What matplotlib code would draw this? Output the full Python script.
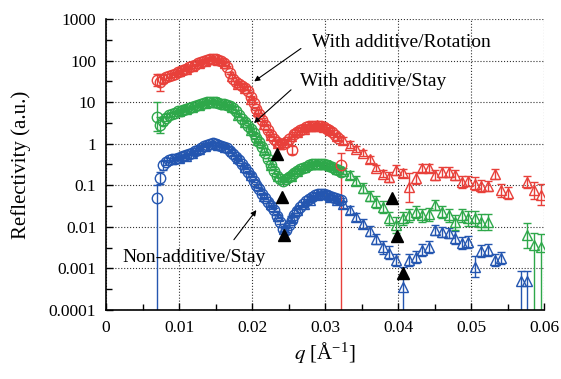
import numpy as np
import matplotlib
matplotlib.use("Agg")
import matplotlib.pyplot as plt
from matplotlib.ticker import FixedLocator, NullFormatter

plt.rcParams["font.family"] = ["Liberation Serif", "DejaVu Serif"]
plt.rcParams["mathtext.fontset"] = "stix"


# q grid of the dense (circle) data set
q_circ = [
    0.0070, 0.0074, 0.0078, 0.0082, 0.0086, 0.0090, 0.0094, 0.0098,
    0.0102, 0.0106, 0.0110, 0.0114, 0.0118, 0.0122, 0.0126, 0.0130,
    0.0134, 0.0138, 0.0142, 0.0146, 0.0150, 0.0154, 0.0158, 0.0162,
    0.0166, 0.0170, 0.0174, 0.0178, 0.0182, 0.0186, 0.0190, 0.0194,
    0.0198, 0.0202, 0.0206, 0.0210, 0.0214, 0.0218, 0.0222, 0.0226,
    0.0230, 0.0234, 0.0238, 0.0242, 0.0246, 0.0250, 0.0254, 0.0258,
    0.0262, 0.0266, 0.0270, 0.0274, 0.0278, 0.0282, 0.0286, 0.0290,
    0.0294, 0.0298, 0.0302, 0.0306, 0.0310, 0.0314, 0.0318, 0.0322,
]

# q grid of the wide (triangle) data set
q_tri = [
    0.0100, 0.0109, 0.0118, 0.0127, 0.0136, 0.0145, 0.0154, 0.0163,
    0.0172, 0.0181, 0.0190, 0.0199, 0.0208, 0.0217, 0.0226, 0.0235,
    0.0244, 0.0253, 0.0262, 0.0271, 0.0280, 0.0289, 0.0298, 0.0307,
    0.0316, 0.0325, 0.0334, 0.0343, 0.0352, 0.0361, 0.0370, 0.0379,
    0.0388, 0.0397, 0.0406, 0.0415, 0.0424, 0.0433, 0.0442, 0.0451,
    0.0460, 0.0469, 0.0478, 0.0487, 0.0496, 0.0505, 0.0514, 0.0523,
    0.0532, 0.0541, 0.0550, 0.0559, 0.0568, 0.0577, 0.0586, 0.0595,
]

nan = np.nan

# With additive / Rotation (red)
rot_circ = [
    34, 30, 36, 40, 42, 45, 48, 52,
    55, 60, 64, 68, 72, 78, 85, 92,
    98, 104, 108, 110, 108, 102, 95, 85,
    70, 50, 35, 30, 27, 25, 22, 18,
    13, 9.5, 7.0, 5.2, 3.8, 2.8, 2.1, 1.6,
    1.3, 1.1, 1.0, 1.0, 1.1, 1.3, 0.7, 1.7,
    1.9, 2.1, 2.3, 2.5, 2.6, 2.7, 2.7, 2.6,
    2.6, 2.5, 2.3, 2.1, 1.9, 1.6, 1.4, 0.3,
]
rot_circ_err = ([0.15, 0.2, 0.1, 0.08, 0.05, 0.05, 0.04, 0.04] + [0.03] * 32
                + [0.04, 0.04, 0.04, 0.04, 0.04, 0.04, 0.1, 0.04] + [0.05] * 8
                + [0.05] * 7 + [0.3])
rot_circ_floor = [0.0322]

rot_tri = [
    55, 62, 72, 85, 98, 108, 102, 88,
    42, 28, 22, 12, 6.0, 3.0, 1.6, 1.05,
    1.1, 1.5, 1.9, 2.3, 2.6, 2.8, 2.5, 2.1,
    1.5, 1.2, 0.95, 0.75, 0.6, 0.42, 0.26, 0.19,
    0.16, 0.23, 0.20, 0.09, 0.15, 0.26, 0.26, 0.18,
    0.21, 0.21, 0.18, 0.12, 0.13, 0.11, 0.095, 0.095,
    0.19, 0.075, 0.065, nan, nan, 0.12, 0.075, 0.06,
]
rot_tri_err = ([0.04] * 16 + [0.06] * 8 + [0.08] * 8
               + [0.12, 0.12, 0.1, 0.35, 0.15, 0.1, 0.1, 0.12]
               + [0.12, 0.12, 0.12, 0.15, 0.12, 0.15, 0.15, 0.12]
               + [0.12, 0.15, 0.15, nan, nan, 0.15, 0.2, 0.25])
rot_tri_floor = []

# With additive / Stay (green)
stay_circ = [
    4.5, 2.8, 3.5, 4.2, 4.8, 5.2, 5.6, 6.0,
    6.2, 6.5, 6.8, 7.2, 7.6, 8.0, 8.5, 9.0,
    9.5, 10, 10.3, 10.3, 10, 9.6, 9.2, 8.8,
    8.4, 8.0, 7.2, 6.0, 4.8, 4.0, 3.3, 2.7,
    2.2, 1.8, 1.4, 1.1, 0.85, 0.6, 0.42, 0.3,
    0.22, 0.17, 0.14, 0.13, 0.14, 0.16, 0.18, 0.2,
    0.22, 0.24, 0.26, 0.28, 0.3, 0.32, 0.33, 0.33,
    0.33, 0.32, 0.31, 0.29, 0.27, 0.25, 0.23, 0.21,
]
stay_circ_err = ([0.35, 0.2, 0.1, 0.08, 0.05, 0.05, 0.04, 0.04] + [0.03] * 32
                 + [0.04] * 24)
stay_circ_floor = []

stay_tri = [
    6.0, 6.8, 7.5, 8.5, 9.5, 10, 9.8, 9.0,
    7.5, 5.0, 3.4, 2.1, 1.2, 0.7, 0.3, 0.17,
    0.14, 0.17, 0.22, 0.28, 0.32, 0.33, 0.32, 0.30,
    0.25, 0.22, 0.18, 0.13, 0.085, 0.055, 0.04, 0.03,
    0.016, 0.011, 0.016, 0.019, 0.023, 0.019, 0.02, 0.034,
    0.023, 0.019, 0.013, 0.019, 0.016, 0.016, 0.013, 0.013,
    nan, nan, nan, nan, nan, 0.0063, 0.0036, 0.0033,
]
stay_tri_err = ([0.04] * 16 + [0.06] * 8
                + [0.08, 0.08, 0.1, 0.1, 0.12, 0.12, 0.15, 0.15]
                + [0.15, 0.2, 0.15, 0.15, 0.15, 0.15, 0.15, 0.12]
                + [0.15, 0.15, 0.18, 0.15, 0.18, 0.18, 0.2, 0.2]
                + [nan, nan, nan, nan, nan, 0.3, 0.3, 0.3])
stay_tri_floor = [0.0586, 0.0595]

# Non-additive / Stay (blue)
non_circ = [
    0.05, 0.15, 0.3, 0.36, 0.4, 0.42, 0.44, 0.46,
    0.48, 0.5, 0.53, 0.56, 0.6, 0.65, 0.72, 0.8,
    0.88, 0.95, 1.0, 1.02, 1.0, 0.95, 0.9, 0.84,
    0.78, 0.68, 0.58, 0.48, 0.4, 0.32, 0.26, 0.21,
    0.17, 0.13, 0.1, 0.08, 0.062, 0.05, 0.04, 0.032,
    0.025, 0.018, 0.013, 0.009, 0.0085, 0.011, 0.015, 0.019,
    0.024, 0.03, 0.036, 0.042, 0.048, 0.053, 0.058, 0.062,
    0.063, 0.062, 0.058, 0.055, 0.052, 0.05, 0.048, 0.045,
]
non_circ_err = ([0.3, 0.15, 0.1, 0.06, 0.05, 0.04, 0.04, 0.04] + [0.03] * 32
                + [0.05] * 24)
non_circ_floor = [0.0070]

non_tri = [
    0.45, 0.5, 0.6, 0.75, 0.9, 1.0, 0.95, 0.85,
    0.65, 0.45, 0.28, 0.18, 0.10, 0.055, 0.035, 0.018,
    0.009, 0.016, 0.025, 0.035, 0.045, 0.058, 0.062, 0.052,
    0.045, 0.035, 0.025, 0.017, 0.012, 0.008, 0.005, 0.0032,
    0.0024, 0.0016, 0.00035, 0.0016, 0.0019, 0.0028, 0.0033, 0.0083,
    0.0077, 0.0072, 0.0055, 0.0041, 0.0043, 0.0011, 0.0026, 0.0028,
    0.0016, 0.0018, nan, nan, 0.0005, 0.0005, nan, nan,
]
non_tri_err = ([0.04] * 16 + [0.06] * 8
               + [0.08, 0.08, 0.1, 0.1, 0.1, 0.12, 0.12, 0.15]
               + [0.15, 0.15, 0.5, 0.15, 0.15, 0.15, 0.15, 0.12]
               + [0.12, 0.12, 0.15, 0.15, 0.15, 0.25, 0.15, 0.15]
               + [0.15, 0.15, nan, nan, 0.25, 0.25, nan, nan])
non_tri_floor = [0.0406, 0.0568, 0.0577]

# black triangles (marked minima)
mark_q = [0.0234, 0.0241, 0.0244, 0.0392, 0.0398, 0.0407]
mark_r = [0.55, 0.052, 0.0063, 0.049, 0.006, 0.00078]

red = "#E8403A"
green = "#2EA84A"
blue = "#2456B0"


def bars(q, r, e, floor):
    # error bars given as half-width in decades; floor -> bar runs off the bottom
    q = np.asarray(q, float)
    r = np.asarray(r, float)
    e = np.asarray(e, float)
    lo = r - r * 10 ** (-e)
    hi = r * 10 ** e - r
    for f in floor:
        m = np.isclose(q, f)
        lo[m] = r[m] - 1e-7
    return [lo, hi]


fig = plt.figure(figsize=(5.61, 3.79), dpi=100)
ax = fig.add_axes([0.189, 0.182, 0.781, 0.768])

series = [
    (non_circ, non_circ_err, non_circ_floor, non_tri, non_tri_err, non_tri_floor, blue),
    (stay_circ, stay_circ_err, stay_circ_floor, stay_tri, stay_tri_err, stay_tri_floor, green),
    (rot_circ, rot_circ_err, rot_circ_floor, rot_tri, rot_tri_err, rot_tri_floor, red),
]

style = dict(mfc="none", ms=7.5, mew=1.0, elinewidth=1.0, capsize=3.2, capthick=1.0)
for rc, ec, fc, rt, et, ft, c in series:
    ax.errorbar(q_circ, rc, yerr=bars(q_circ, rc, ec, fc), fmt="o",
                mec=c, ecolor=c, **style)
    ax.errorbar(q_tri, rt, yerr=bars(q_tri, rt, et, ft), fmt="^",
                mec=c, ecolor=c, **style)

ax.plot(mark_q, mark_r, "^", color="black", ms=9, zorder=6)

# axes
ax.set_xlim(0, 0.06)
ax.set_yscale("log")
ax.set_ylim(1e-4, 1e3)

ax.set_xticks([0, 0.01, 0.02, 0.03, 0.04, 0.05, 0.06])
ax.set_xticklabels(["0", "0.01", "0.02", "0.03", "0.04", "0.05", "0.06"])
ax.xaxis.set_minor_locator(FixedLocator([0.005, 0.015, 0.025, 0.035, 0.045, 0.055]))

ax.yaxis.set_major_locator(FixedLocator([1e-4, 1e-3, 1e-2, 1e-1, 1, 10, 100, 1000]))
ax.set_yticklabels(["0.0001", "0.001", "0.01", "0.1", "1", "10", "100", "1000"])
ax.yaxis.set_minor_locator(FixedLocator([10 ** (k + 0.5) for k in range(-4, 3)]))
ax.yaxis.set_minor_formatter(NullFormatter())

ax.tick_params(which="both", direction="in", labelsize=12.5, width=1, color="black")
ax.tick_params(which="major", length=5, pad=7)
ax.tick_params(which="minor", length=4)

ax.grid(True, which="major", linestyle=":", color="#333333", linewidth=0.8)
ax.spines["top"].set_visible(False)
ax.spines["right"].set_visible(False)
ax.spines["left"].set_linewidth(1.2)
ax.spines["bottom"].set_linewidth(1.2)

ax.set_ylabel("Reflectivity (a.u.)", fontsize=15)
ax.yaxis.set_label_coords(-0.172, 0.5)
ax.set_xlabel(r"$q$ [Å$^{\mathregular{-1}}$]", fontsize=15)
ax.xaxis.set_label_coords(0.5, -0.105)

# labels with arrows
arrow = dict(arrowstyle="-|>", color="black", lw=0.8, mutation_scale=8)
ax.annotate("", xy=(0.333, 0.780), xytext=(0.450, 0.904),
            xycoords="axes fraction", arrowprops=arrow)
ax.text(0.470, 0.918, "With additive/Rotation", transform=ax.transAxes,
        fontsize=14, va="center", ha="left")
ax.annotate("", xy=(0.333, 0.636), xytext=(0.427, 0.763),
            xycoords="axes fraction", arrowprops=arrow)
ax.text(0.443, 0.784, "With additive/Stay", transform=ax.transAxes,
        fontsize=14, va="center", ha="left")
ax.annotate("", xy=(0.347, 0.351), xytext=(0.288, 0.234),
            xycoords="axes fraction", arrowprops=arrow)
ax.text(0.0365, 0.182, "Non-additive/Stay", transform=ax.transAxes,
        fontsize=14, va="center", ha="left")

fig.savefig("out.png", dpi=100)
